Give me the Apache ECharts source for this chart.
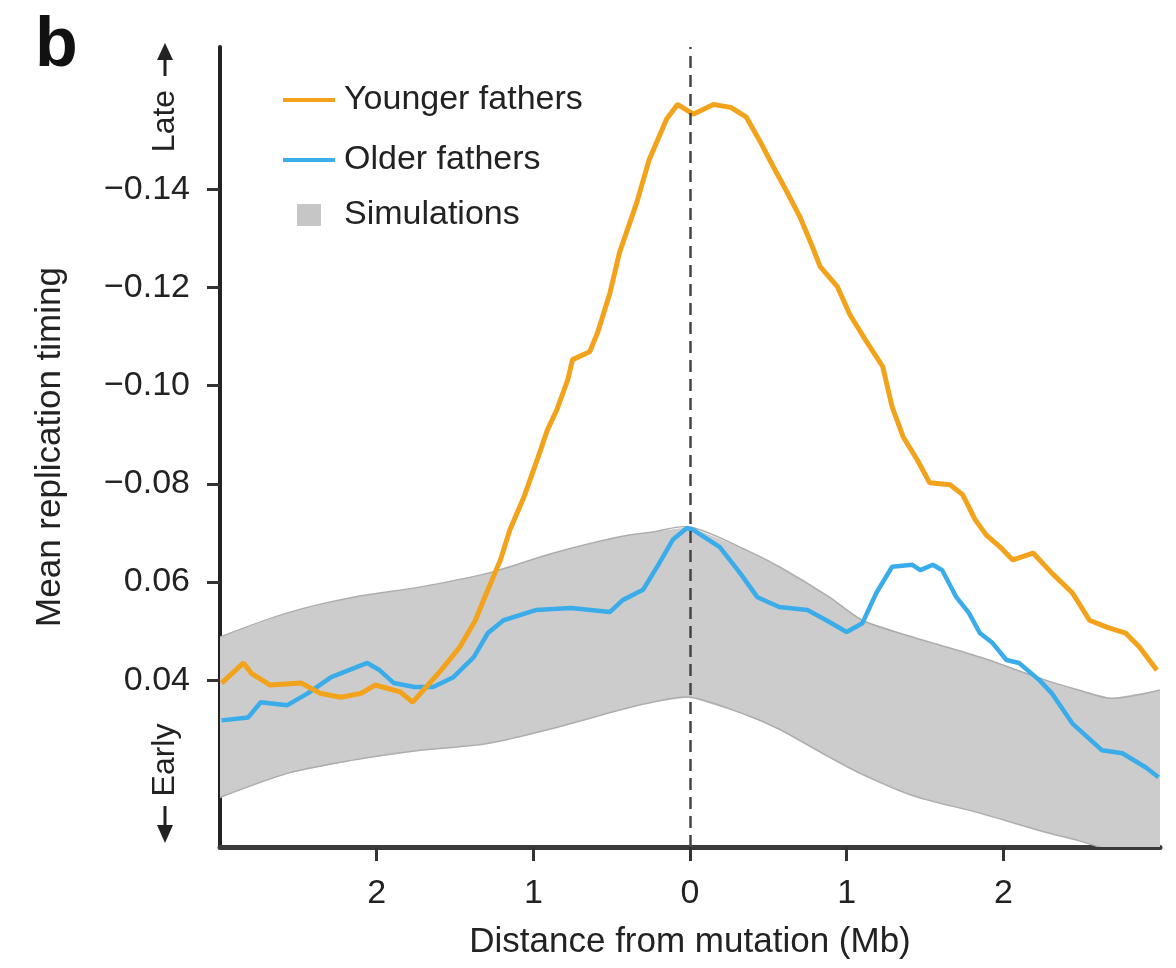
<!DOCTYPE html>
<html>
<head>
<meta charset="utf-8">
<script src="https://cdn.jsdelivr.net/npm/echarts@6/dist/echarts.min.js"></script>
<style>
  html, body { margin: 0; padding: 0; background: #ffffff; }
  #chart { width: 1176px; height: 968px; }
</style>
</head>
<body>
<div id="chart"></div>
<script>
// Distance from mutation (Mb), negative = upstream side
const youngerX = [-2.99, -2.85, -2.80, -2.68, -2.48, -2.36, -2.23, -2.10, -2.01, -1.94, -1.85, -1.77, -1.72, -1.59, -1.47, -1.37, -1.31, -1.21, -1.15, -1.06, -0.96, -0.91, -0.85, -0.78, -0.75, -0.64, -0.59, -0.51, -0.45, -0.34, -0.26, -0.15, -0.08, 0.02, 0.15, 0.26, 0.36, 0.45, 0.53, 0.62, 0.70, 0.78, 0.83, 0.94, 1.02, 1.13, 1.23, 1.29, 1.36, 1.45, 1.53, 1.66, 1.74, 1.82, 1.89, 1.98, 2.06, 2.19, 2.31, 2.44, 2.55, 2.66, 2.78, 2.87, 2.98];
const youngerY = [0.0394, 0.0435, 0.0414, 0.0390, 0.0394, 0.0373, 0.0365, 0.0373, 0.0390, 0.0384, 0.0376, 0.0355, 0.0373, 0.0420, 0.0467, 0.0522, 0.0569, 0.0645, 0.0706, 0.0773, 0.0863, 0.0910, 0.0951, 0.1012, 0.1053, 0.1069, 0.1108, 0.1190, 0.1271, 0.1373, 0.1461, 0.1543, 0.1573, 0.1553, 0.1573, 0.1567, 0.1547, 0.1496, 0.1447, 0.1394, 0.1345, 0.1284, 0.1243, 0.1202, 0.1145, 0.1088, 0.1039, 0.0957, 0.0896, 0.0849, 0.0802, 0.0798, 0.0778, 0.0727, 0.0696, 0.0671, 0.0645, 0.0659, 0.0618, 0.0578, 0.0522, 0.0508, 0.0496, 0.0467, 0.0420];

const olderX = [-2.99, -2.82, -2.74, -2.57, -2.44, -2.29, -2.06, -1.98, -1.89, -1.76, -1.64, -1.51, -1.38, -1.29, -1.19, -0.98, -0.76, -0.51, -0.43, -0.30, -0.21, -0.11, -0.02, 0.02, 0.19, 0.32, 0.43, 0.57, 0.75, 0.87, 1.00, 1.10, 1.19, 1.29, 1.42, 1.47, 1.55, 1.61, 1.70, 1.78, 1.85, 1.93, 2.02, 2.10, 2.23, 2.31, 2.44, 2.63, 2.76, 2.91, 2.99];
const olderY = [0.0318, 0.0324, 0.0355, 0.0349, 0.0373, 0.0406, 0.0435, 0.0420, 0.0394, 0.0386, 0.0386, 0.0406, 0.0447, 0.0496, 0.0522, 0.0543, 0.0547, 0.0539, 0.0563, 0.0584, 0.0631, 0.0686, 0.0710, 0.0706, 0.0671, 0.0618, 0.0569, 0.0549, 0.0543, 0.0522, 0.0498, 0.0516, 0.0578, 0.0631, 0.0635, 0.0624, 0.0635, 0.0624, 0.0569, 0.0537, 0.0496, 0.0476, 0.0441, 0.0435, 0.0400, 0.0373, 0.0312, 0.0257, 0.0251, 0.0222, 0.0202];

// Simulation envelope (lower and upper bounds)
const simX = [-3.0, -2.57, -2.15, -1.72, -1.29, -0.87, -0.45, -0.24, 0.0, 0.36, 0.57, 0.89, 1.10, 1.42, 1.85, 2.27, 2.48, 2.69, 3.0];
const simLower = [0.0161, 0.0210, 0.0237, 0.0257, 0.0271, 0.0302, 0.0339, 0.0355, 0.0365, 0.0329, 0.0300, 0.0243, 0.0208, 0.0165, 0.0129, 0.0090, 0.0073, 0.0053, 0.0037];
const simUpper = [0.0488, 0.0537, 0.0569, 0.0590, 0.0618, 0.0659, 0.0692, 0.0702, 0.0712, 0.0665, 0.0631, 0.0569, 0.0522, 0.0488, 0.0447, 0.0400, 0.0380, 0.0363, 0.0380];

// Axis ticks and their labels
const xTickValues = [-2, -1, 0, 1, 2];
const yTickValues = [0.04, 0.06, 0.08, 0.10, 0.12, 0.14];
const yTickLabels = ['0.04', '0.06', '\u22120.08', '\u22120.10', '\u22120.12', '\u22120.14'];

const FONT = 'Liberation Sans, Arial, Helvetica, sans-serif';
const TEXT = '#222222';

const pairs = (xs, ys) => xs.map((x, i) => [x, ys[i]]);

// One data row per envelope sample: [x, lower, upper]
const simRows = simX.map((x, i) => [x, simLower[i], simUpper[i]]);

const chart = echarts.init(document.getElementById('chart'), null, { renderer: 'canvas' });

chart.setOption({
  animation: false,
  backgroundColor: '#ffffff',
  textStyle: { fontFamily: FONT },
  grid: { left: 220, right: 16, top: 47, bottom: 121 },
  xAxis: {
    type: 'value',
    min: -3,
    max: 3,
    name: 'Distance from mutation (Mb)',
    nameLocation: 'middle',
    nameGap: 78,
    nameTextStyle: { fontSize: 35, color: TEXT, fontFamily: FONT },
    axisLine: { show: true, onZero: false, lineStyle: { color: '#3a3a3a', width: 5 } },
    axisTick: { show: true, customValues: xTickValues, length: 14, lineStyle: { color: '#333', width: 3 } },
    axisLabel: {
      customValues: xTickValues,
      margin: 30,
      fontSize: 34,
      color: TEXT,
      fontFamily: FONT,
      formatter: v => String(Math.abs(Math.round(v)))
    },
    splitLine: { show: false }
  },
  yAxis: {
    type: 'value',
    min: 0.006,
    max: 0.169,
    name: 'Mean replication timing',
    nameLocation: 'middle',
    nameGap: 152,
    nameRotate: 90,
    nameTextStyle: { fontSize: 35, color: TEXT, fontFamily: FONT },
    axisLine: { show: true, onZero: false, lineStyle: { color: '#222', width: 4 } },
    axisTick: { show: true, customValues: yTickValues, length: 13, lineStyle: { color: '#333', width: 3 } },
    axisLabel: {
      customValues: yTickValues,
      margin: 30,
      fontSize: 34,
      color: TEXT,
      fontFamily: FONT,
      formatter: v => {
        const i = yTickValues.findIndex(t => Math.abs(t - v) < 1e-6);
        return i >= 0 ? yTickLabels[i] : '';
      }
    },
    splitLine: { show: false }
  },
  legend: [
    {
      orient: 'vertical',
      left: 278,
      top: 77,
      itemWidth: 52,
      itemHeight: 4,
      itemGap: 24,
      icon: 'rect',
      textStyle: { fontSize: 34, color: TEXT, fontFamily: FONT, lineHeight: 36, padding: [0, 0, 0, 4] },
      data: ['Younger fathers', 'Older fathers']
    },
    {
      orient: 'vertical',
      left: 292,
      top: 192,
      itemWidth: 24,
      itemHeight: 22,
      icon: 'rect',
      textStyle: { fontSize: 34, color: TEXT, fontFamily: FONT, lineHeight: 36, padding: [0, 0, 0, 18] },
      data: [{ name: 'Simulations', itemStyle: { color: '#c6c6c6' } }]
    }
  ],
  series: [
    {
      // Envelope of simulations: polygon between the lower and upper bounds
      name: 'Simulations',
      type: 'custom',
      data: simRows,
      encode: { x: 0, y: [1, 2] },
      itemStyle: { color: '#c6c6c6' },
      silent: true,
      z: 1,
      renderItem: (params, api) => {
        if (params.dataIndex !== 0) return null;
        const upper = simRows.map(r => api.coord([r[0], r[2]]));
        const lower = simRows.map(r => api.coord([r[0], r[1]])).reverse();
        const cs = params.coordSys;
        const clip = { type: 'rect', shape: { x: cs.x, y: cs.y, width: cs.width, height: cs.height } };
        return {
          type: 'group',
          children: [
            {
              type: 'polygon',
              shape: { points: upper.concat(lower) },
              style: { fill: '#cccccc', stroke: null },
              clipPath: clip
            },
            {
              type: 'polyline',
              shape: { points: upper, smooth: 0.3 },
              style: { fill: null, stroke: '#adadad', lineWidth: 1.5 },
              clipPath: clip
            },
            {
              type: 'polyline',
              shape: { points: lower.slice().reverse(), smooth: 0.3 },
              style: { fill: null, stroke: '#adadad', lineWidth: 1.5 },
              clipPath: clip
            }
          ]
        };
      }
    },
    {
      // Mutation position: dashed vertical reference at 0 Mb
      name: 'mutation',
      type: 'line',
      data: [],
      silent: true,
      z: 2,
      markLine: {
        silent: true,
        symbol: 'none',
        label: { show: false },
        lineStyle: { color: '#444', width: 2.5, type: [12, 7] },
        data: [{ xAxis: 0 }]
      }
    },
    {
      name: 'Older fathers',
      type: 'line',
      data: pairs(olderX, olderY),
      showSymbol: false,
      itemStyle: { color: '#3aacea' },
      lineStyle: { color: '#3aacea', width: 4.5 },
      z: 3
    },
    {
      name: 'Younger fathers',
      type: 'line',
      data: pairs(youngerX, youngerY),
      showSymbol: false,
      itemStyle: { color: '#f2a31b' },
      lineStyle: { color: '#f2a31b', width: 5 },
      z: 4
    }
  ],
  graphic: [
    {
      type: 'text',
      left: 35,
      top: 12,
      style: { text: 'b', font: 'bold 70px ' + FONT, fill: '#111' }
    },
    {
      type: 'text',
      x: 165,
      y: 121,
      rotation: Math.PI / 2,
      style: { text: 'Late', font: '32px ' + FONT, fill: TEXT, align: 'center', verticalAlign: 'middle' }
    },
    { type: 'line', shape: { x1: 165, y1: 76, x2: 165, y2: 56 }, style: { stroke: '#222', lineWidth: 3 } },
    { type: 'polygon', shape: { points: [[157, 60], [173, 60], [165, 43]] }, style: { fill: '#222' } },
    {
      type: 'text',
      x: 165,
      y: 760,
      rotation: Math.PI / 2,
      style: { text: 'Early', font: '32px ' + FONT, fill: TEXT, align: 'center', verticalAlign: 'middle' }
    },
    { type: 'line', shape: { x1: 165, y1: 806, x2: 165, y2: 828 }, style: { stroke: '#222', lineWidth: 3 } },
    { type: 'polygon', shape: { points: [[157, 825], [173, 825], [165, 843]] }, style: { fill: '#222' } }
  ]
});
</script>
</body>
</html>
